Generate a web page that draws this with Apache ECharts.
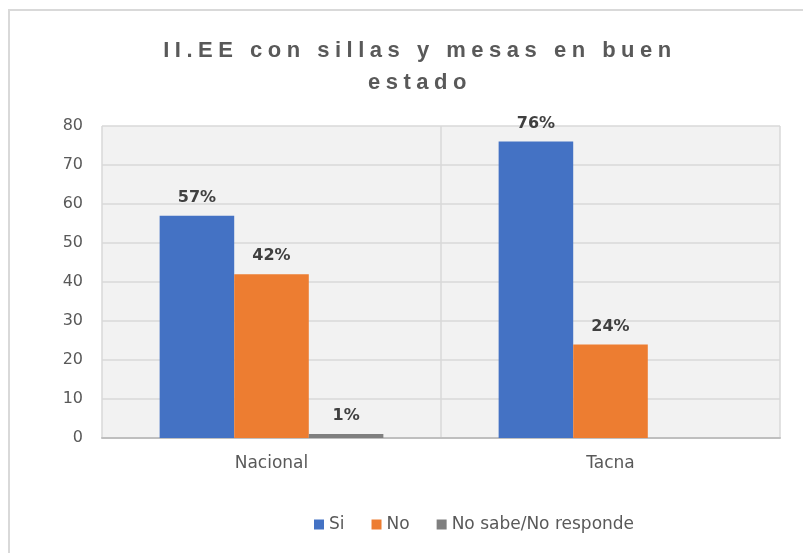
<!DOCTYPE html>
<html>
<head>
<meta charset="utf-8">
<title>II.EE con sillas y mesas en buen estado</title>
<script src="https://cdn.jsdelivr.net/npm/echarts@6/dist/echarts.min.js"></script>
<style>
  html, body { margin: 0; padding: 0; background: #fff; overflow: hidden; }
  #wrap { position: relative; width: 803px; height: 553px; }
  #chart { position: absolute; left: 0; top: 0; width: 803px; height: 553px; }
  /* titulo en html: el canvas no tiene letter-spacing */
  .chart-title {
    position: absolute;
    left: 140px;
    top: 34px;
    width: 560px;
    text-align: center;
    font-family: 'Liberation Sans', Arial, sans-serif;
    font-weight: bold;
    font-size: 22px;
    line-height: 32px;
    letter-spacing: 5.5px;
    color: #595959;
    z-index: 2;
  }
</style>
</head>
<body>
<div id="wrap">
  <div id="chart"></div>
  <div class="chart-title">II.EE con sillas y mesas en buen estado</div>
</div>
<script>
var categories = ['Nacional', 'Tacna']
var seriesNames = ['Si', 'No', 'No sabe/No responde']
var siValues = [57, 76]
var noValues = [42, 24]
var nsValues = [1, 0]
var yTicks = { min: 0, max: 80, interval: 10 }

var colors = ['#4472c4', '#ed7d31', '#7f7f7f']
var fontFam = "'DejaVu Sans', Verdana, sans-serif"

var chart = echarts.init(document.getElementById('chart'))

function makeSeries(name, values, color) {
  return {
    name: name,
    type: 'bar',
    data: values,
    barGap: 0,
    barCategoryGap: '34%',
    itemStyle: { color: color },
    label: {
      show: true,
      position: 'top',
      distance: 10,
      fontFamily: fontFam,
      fontWeight: 'bold',
      fontSize: 16,
      color: '#404040',
      formatter: function (p) {
        return p.value ? p.value + '%' : ''
      }
    }
  }
}

chart.setOption({
  animation: false,
  textStyle: { fontFamily: fontFam },
  graphic: [
    {
      type: 'rect',
      shape: { x: 9, y: 10, width: 900, height: 700 },
      style: { fill: 'none', stroke: '#d9d9d9', lineWidth: 2 },
      silent: true
    }
  ],
  grid: {
    left: 102,
    right: 23,
    top: 126,
    bottom: 115,
    show: true,
    backgroundColor: '#f2f2f2',
    borderWidth: 0
  },
  legend: {
    left: 309,
    top: 511,
    itemWidth: 10,
    itemHeight: 10,
    itemGap: 27,
    icon: 'rect',
    textStyle: { fontFamily: fontFam, fontSize: 17, color: '#595959' },
    data: seriesNames
  },
  xAxis: {
    type: 'category',
    data: categories,
    axisTick: { show: false },
    axisLine: { lineStyle: { color: '#bfbfbf', width: 2 } },
    splitLine: { show: true, lineStyle: { color: '#d9d9d9', width: 1.5 } },
    axisLabel: { fontFamily: fontFam, fontSize: 17, color: '#595959', margin: 17 }
  },
  yAxis: {
    type: 'value',
    min: yTicks.min,
    max: yTicks.max,
    interval: yTicks.interval,
    axisLine: { show: false },
    axisTick: { show: false },
    splitLine: { lineStyle: { color: '#d9d9d9', width: 1.5 } },
    axisLabel: { fontFamily: fontFam, fontSize: 16, color: '#595959', margin: 19 }
  },
  series: [
    makeSeries(seriesNames[0], siValues, colors[0]),
    makeSeries(seriesNames[1], noValues, colors[1]),
    makeSeries(seriesNames[2], nsValues, colors[2])
  ]
})
</script>
</body>
</html>
